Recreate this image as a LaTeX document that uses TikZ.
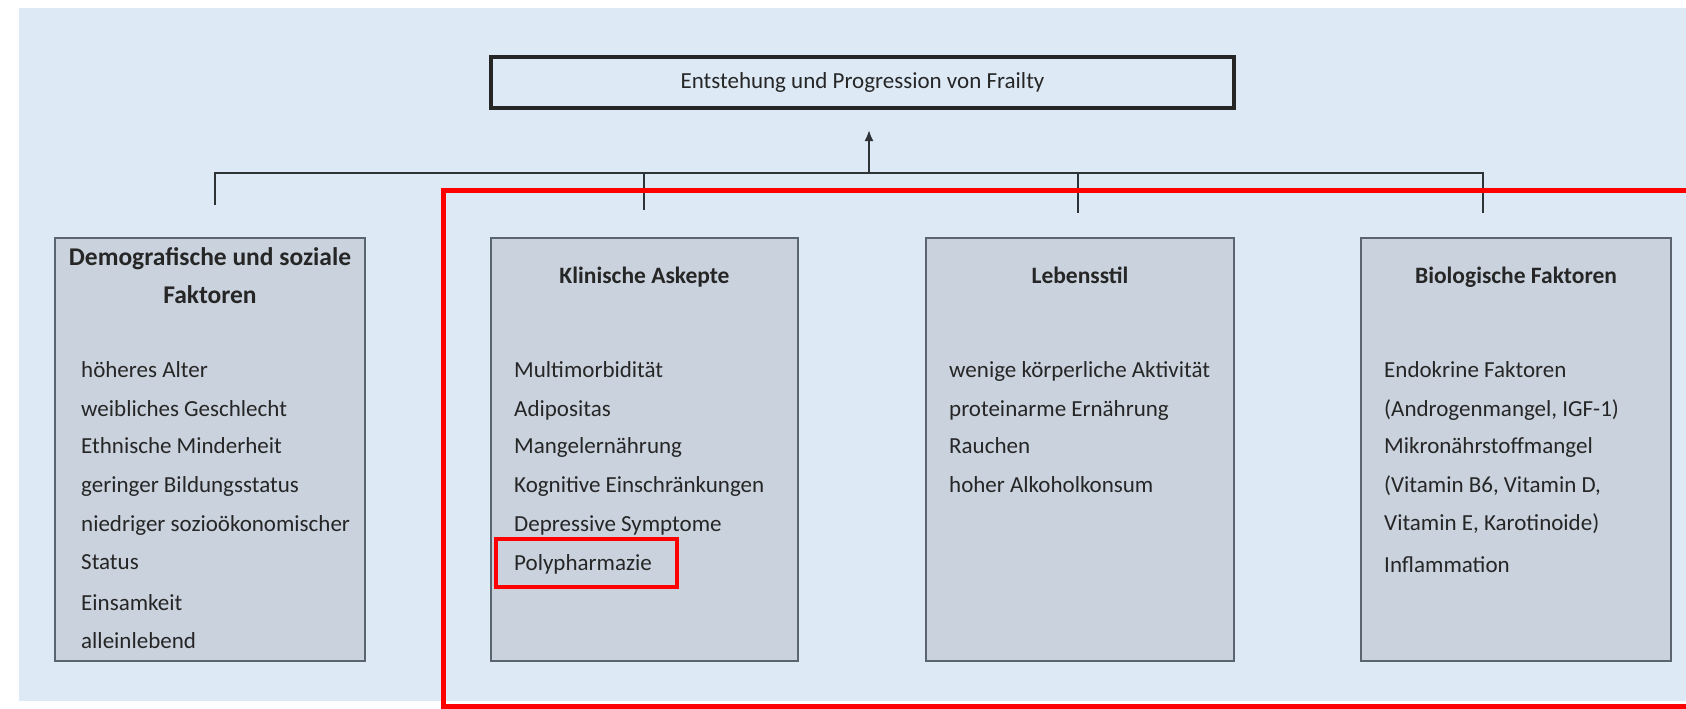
\documentclass[tikz,border=0pt]{standalone}
\usepackage{fontspec}
\setmainfont{Carlito}
\usetikzlibrary{arrows.meta}
\definecolor{bgblue}{HTML}{DDE9F5}
\definecolor{boxfill}{HTML}{C9D2DD}
\definecolor{boxline}{HTML}{5B6570}
\definecolor{linecol}{HTML}{2E3338}
\definecolor{txt}{HTML}{262626}
\tikzset{
  catbox/.style={draw=boxline, fill=boxfill, line width=2pt, minimum height=423pt, inner sep=0pt},
  headbox/.style={draw=black!85, fill=bgblue, line width=3.5pt, minimum width=743pt, minimum height=51pt, inner sep=0pt, text=txt, font=\fontsize{23}{28}\selectfont},
  item/.style={anchor=base west, inner sep=0pt, text=txt, font=\fontsize{23}{28}\selectfont},
  ttl/.style={anchor=base, inner sep=0pt, text=txt, font=\fontsize{23.5}{28}\selectfont\bfseries},
  bigttl/.style={anchor=base, inner sep=0pt, text=txt, font=\fontsize{25.5}{30}\selectfont\bfseries},
  conn/.style={draw=linecol, line width=2pt},
  redmark/.style={draw=red, line width=4.5pt},
}
\begin{document}
\begin{tikzpicture}[x=1pt,y=-1pt]
\useasboundingbox (0,0) rectangle (1686,709);
\clip (0,0) rectangle (1686,709);
\fill[bgblue] (19,8) rectangle (1686,701);

% header
\node[headbox] (top) at (862.5,82.5) {Entstehung und Progression von Frailty};

% category boxes
\node[catbox, minimum width=310pt] (b1) at (210,449.5) {};
\node[catbox, minimum width=307pt] (b2) at (644.5,449.5) {};
\node[catbox, minimum width=308pt] (b3) at (1080,449.5) {};
\node[catbox, minimum width=310pt] (b4) at (1516,449.5) {};

% connectors
\coordinate (j) at (869,173);
\coordinate (jt) at (869,130);
\coordinate (c1) at (215,173);
\coordinate (c2) at (644,173);
\coordinate (c3) at (1078,173);
\coordinate (c4) at (1483,173);
\coordinate (d1) at (215,205);
\coordinate (d2) at (644,210);
\coordinate (d3) at (1078,213);
\coordinate (d4) at (1483,213);
\draw[conn] (d1) -- (c1) -- (c4) -- (d4);
\draw[conn] (c2) -- (d2);
\draw[conn] (c3) -- (d3);
\draw[conn, -{Latex[length=11pt,width=9pt]}] (j) -- (jt);

% titles
\node[bigttl] (t1a) at (210,265) {Demografische und soziale};
\node[bigttl] (t1b) at (210,303) {Faktoren};
\node[ttl] (t2) at (644.5,283) {Klinische Askepte};
\node[ttl] (t3) at (1080,283) {Lebensstil};
\node[ttl] (t4) at (1516,283) {Biologische Faktoren};

% items
\foreach \y/\t [count=\i] in {377/höheres Alter, 416/weibliches Geschlecht, 453/Ethnische Minderheit, 492/geringer Bildungsstatus, 531/niedriger sozioökonomischer, 569/Status, 610/Einsamkeit, 648/alleinlebend}
  \node[item] (i1-\i) at (81,\y) {\t};
\foreach \y/\t [count=\i] in {377/Multimorbidität, 416/Adipositas, 453/Mangelernährung, 492/Kognitive Einschränkungen, 531/Depressive Symptome, 570/Polypharmazie}
  \node[item] (i2-\i) at (514,\y) {\t};
\foreach \y/\t [count=\i] in {377/wenige körperliche Aktivität, 416/proteinarme Ernährung, 453/Rauchen, 492/hoher Alkoholkonsum}
  \node[item] (i3-\i) at (949,\y) {\t};
\foreach \y/\t [count=\i] in {377/Endokrine Faktoren, 416/{(Androgenmangel, IGF-1)}, 453/Mikronährstoffmangel, 492/{(Vitamin B6, Vitamin D,}, 530/{Vitamin E, Karotinoide)}, 572/Inflammation}
  \node[item] (i4-\i) at (1384,\y) {\t};

% red highlight marks
\node[redmark, minimum width=181pt, minimum height=48pt, inner sep=0pt] (hl) at (586.5,563) {};
\draw[redmark, line width=5pt] (443,190) rectangle (1720,706);
\end{tikzpicture}
\end{document}
